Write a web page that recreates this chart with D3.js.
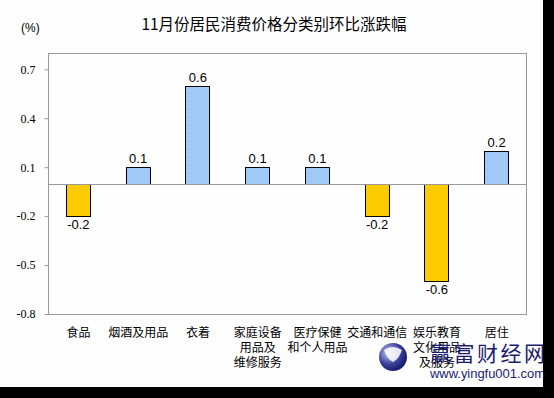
<!DOCTYPE html>
<html>
<head>
<meta charset="utf-8">
<script src="https://cdn.jsdelivr.net/npm/d3@7"></script>
<style>
  html, body { margin: 0; padding: 0; background: #000; }
  svg { display: block; }
</style>
</head>
<body>
<div id="chart"></div>
<script>
// chart values
const categories = ['食品', '烟酒及用品', '衣着', '家庭设备用品及维修服务', '医疗保健和个人用品', '交通和通信', '娱乐教育文化用品及服务', '居住'];
const categoryLines = [['食品'], ['烟酒及用品'], ['衣着'], ['家庭设备', '用品及', '维修服务'], ['医疗保健', '和个人用品'], ['交通和通信'], ['娱乐教育', '文化用品', '及服务'], ['居住']];
const values = [-0.2, 0.1, 0.6, 0.1, 0.1, -0.2, -0.6, 0.2];
const yTicks = [0.7, 0.4, 0.1, -0.2, -0.5, -0.8];
const title = '11月份居民消费价格分类别环比涨跌幅';

const W = 554, H = 398;
const margin = { top: 53, right: 28, bottom: 84, left: 48 };
const width = W - margin.left - margin.right;
const height = H - margin.top - margin.bottom;

// plain hyphen for negatives, like the original
const fmt = d3.formatLocale({ decimal: '.', thousands: ',', grouping: [3], currency: ['', ''], minus: '-' }).format('.1f');

const svg = d3.select('#chart').append('svg')
  .attr('width', W)
  .attr('height', H);

// black frame edges of the original image
svg.append('rect').attr('width', W).attr('height', H).attr('fill', '#000');
svg.append('rect').attr('width', 543).attr('height', 387).attr('fill', '#fefefe');

const defs = svg.append('defs');
const pat = defs.append('pattern')
  .attr('id', 'dots')
  .attr('width', 4).attr('height', 4)
  .attr('patternUnits', 'userSpaceOnUse');
pat.append('rect').attr('width', 4).attr('height', 4).attr('fill', '#a4ccfa');
pat.append('rect').attr('x', 1).attr('y', 1).attr('width', 1).attr('height', 1).attr('fill', '#8cb6ea');
pat.append('rect').attr('x', 3).attr('y', 3).attr('width', 1).attr('height', 1).attr('fill', '#8cb6ea');

const x = d3.scaleBand().domain(categories).range([0, width]).paddingInner(0.6).paddingOuter(0.3);
const y = d3.scaleLinear().domain([-0.8, 0.8]).range([height, 0]);

const g = svg.append('g').attr('transform', `translate(${margin.left},${margin.top})`);

// title and unit
svg.append('text')
  .attr('x', 274).attr('y', 30)
  .attr('text-anchor', 'middle')
  .style('font-family', '"Noto Sans CJK SC", sans-serif')
  .style('font-size', '15.5px')
  .attr('fill', '#000')
  .text(title);

svg.append('text')
  .attr('x', 21).attr('y', 32)
  .style('font-family', '"Liberation Sans", Arial, sans-serif')
  .style('font-size', '12px')
  .attr('fill', '#000')
  .text('(%)');

// plot frame
g.append('rect')
  .attr('x', 0.5).attr('y', 0.5)
  .attr('width', width).attr('height', height)
  .attr('fill', 'none')
  .attr('stroke', '#999');

// y axis
const yAxis = g.append('g')
  .attr('transform', 'translate(0.5,0)')
  .call(d3.axisLeft(y).tickValues(yTicks).tickSize(4).tickPadding(9).tickFormat(fmt));
yAxis.select('.domain').remove();
yAxis.selectAll('line').attr('stroke', '#999');
yAxis.selectAll('text')
  .style('font-family', '"Liberation Serif", "Times New Roman", serif')
  .style('font-size', '12px')
  .attr('fill', '#000');

// bars
g.selectAll('.bar')
  .data(values)
  .enter().append('rect')
  .attr('class', 'bar')
  .attr('x', (d, i) => Math.round(x(categories[i])) + 0.5)
  .attr('y', d => Math.round(y(Math.max(0, d))) + 0.5)
  .attr('width', Math.round(x.bandwidth()))
  .attr('height', d => Math.abs(Math.round(y(d)) - Math.round(y(0))))
  .attr('fill', d => d < 0 ? '#fccc00' : 'url(#dots)')
  .attr('stroke', '#000')
  .attr('stroke-width', 1);

// zero line
g.append('line')
  .attr('x1', 0).attr('x2', width)
  .attr('y1', Math.round(y(0)) + 0.5).attr('y2', Math.round(y(0)) + 0.5)
  .attr('stroke', '#999');

// value labels
g.selectAll('.val')
  .data(values)
  .enter().append('text')
  .attr('class', 'val')
  .attr('x', (d, i) => x(categories[i]) + x.bandwidth() / 2 + 0.5)
  .attr('y', d => d < 0 ? y(d) + 13 : y(d) - 4)
  .attr('text-anchor', 'middle')
  .style('font-family', '"Liberation Sans", Arial, sans-serif')
  .style('font-size', '13px')
  .attr('fill', '#000')
  .text(d => fmt(d));

// category labels
const cat = g.selectAll('.cat')
  .data(categories)
  .enter().append('text')
  .attr('class', 'cat')
  .attr('text-anchor', 'middle')
  .attr('transform', d => `translate(${x(d) + x.bandwidth() / 2 + 0.5},${height + 23})`)
  .style('font-family', '"Noto Sans CJK SC", sans-serif')
  .style('font-size', '12px')
  .attr('fill', '#000');
cat.selectAll('tspan')
  .data((d, i) => categoryLines[i])
  .enter().append('tspan')
  .attr('x', 0)
  .attr('y', (d, i) => i * 15)
  .text(d => d);

// site watermark drawn over the corner, as in the original
const wm = svg.append('g');
const grad = defs.append('radialGradient').attr('id', 'logo').attr('cx', '35%').attr('cy', '35%').attr('r', '70%');
grad.append('stop').attr('offset', '0%').attr('stop-color', '#c8cdf0');
grad.append('stop').attr('offset', '60%').attr('stop-color', '#3a3f9a');
grad.append('stop').attr('offset', '100%').attr('stop-color', '#14186a');
wm.append('circle').attr('cx', 393).attr('cy', 357).attr('r', 14).attr('fill', 'url(#logo)');
wm.append('path')
  .attr('d', 'M384,350 q9,-6 18,0 q-3,9 -9,12 q-6,-3 -9,-12z')
  .attr('fill', '#fff').attr('opacity', 0.85);
wm.append('text')
  .attr('x', 430).attr('y', 361)
  .style('font-family', '"Noto Sans CJK SC", sans-serif')
  .style('font-size', '21px')
  .attr('fill', '#1c1c70')
  .attr('textLength', 115)
  .text('赢富财经网');
wm.append('text')
  .attr('x', 430).attr('y', 378)
  .style('font-family', '"Liberation Sans", Arial, sans-serif')
  .style('font-size', '13px')
  .attr('fill', '#1c1c70')
  .attr('textLength', 115)
  .text('www.yingfu001.com');
</script>
</body>
</html>
